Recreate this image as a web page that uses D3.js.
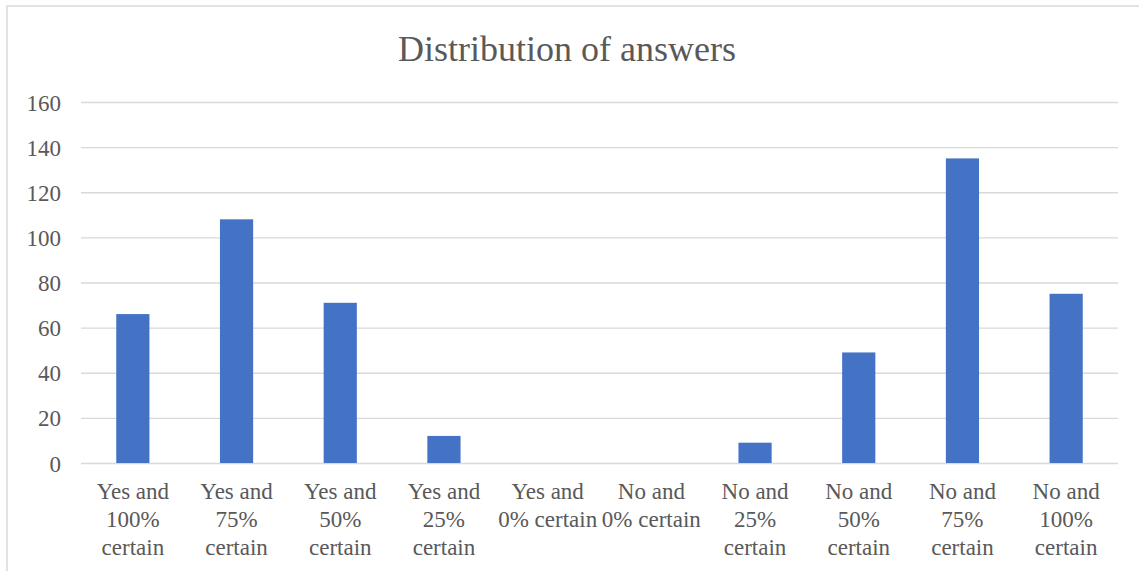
<!DOCTYPE html>
<html>
<head>
<meta charset="utf-8">
<script src="https://cdn.jsdelivr.net/npm/d3@7"></script>
<style>
  html, body { margin: 0; padding: 0; background: #fff; }
  svg { display: block; }
  text { font-family: "Liberation Serif", "Times New Roman", serif; fill: #595959; }
</style>
</head>
<body>
<svg id="chart" width="1139" height="571"></svg>
<script>
const title = "Distribution of answers";
const categories = [
  "Yes and 100% certain", "Yes and 75% certain", "Yes and 50% certain",
  "Yes and 25% certain", "Yes and 0% certain", "No and 0% certain",
  "No and 25% certain", "No and 50% certain", "No and 75% certain",
  "No and 100% certain"
];
const counts = [66, 108, 71, 12, 0, 0, 9, 49, 135, 75];
const yTicks = [0, 20, 40, 60, 80, 100, 120, 140, 160];

const svg = d3.select("#chart");
const W = 1139, H = 571;
const margin = { left: 81, right: 21, top: 102, bottom: 108 };

// Chart area frame
svg.append("rect")
  .attr("x", 7).attr("y", 6)
  .attr("width", W + 20).attr("height", H + 20)
  .attr("fill", "#fff").attr("stroke", "#d9d9d9").attr("stroke-width", 1.5);

svg.append("text")
  .attr("x", 567).attr("y", 61)
  .attr("text-anchor", "middle")
  .style("font-size", "36px")
  .text(title);

const x = d3.scaleBand()
  .domain(categories)
  .range([margin.left, W - margin.right])
  .paddingInner(0.68).paddingOuter(0.34);

const y = d3.scaleLinear()
  .domain([0, 160])
  .range([H - margin.bottom, margin.top]);

// Horizontal gridlines
svg.append("g")
  .attr("transform", `translate(${margin.left},0)`)
  .call(d3.axisLeft(y).tickValues(yTicks).tickSize(-(W - margin.right - margin.left)).tickFormat(""))
  .call(g => g.select(".domain").remove())
  .call(g => g.selectAll("line").attr("stroke", "#d9d9d9").attr("stroke-width", 1.4));

// Y tick labels
svg.append("g")
  .attr("transform", `translate(${margin.left - 20},0)`)
  .call(d3.axisLeft(y).tickValues(yTicks).tickSize(0).tickPadding(0))
  .call(g => g.select(".domain").remove())
  .call(g => g.selectAll("text")
    .style("font-size", "23px")
    .style("font-family", "'Liberation Serif', 'Times New Roman', serif")
    .attr("fill", "#595959")
    .attr("dy", "0.35em"));

// Bars
svg.append("g").selectAll("rect")
  .data(categories.map((c, i) => ({ c, v: counts[i] })))
  .join("rect")
  .attr("x", d => x(d.c))
  .attr("y", d => y(d.v))
  .attr("width", x.bandwidth())
  .attr("height", d => y(0) - y(d.v))
  .attr("fill", "#4472c4");

// Category axis labels, wrapped to the category width
const xAxis = svg.append("g")
  .attr("transform", `translate(0,${y(0)})`)
  .call(d3.axisBottom(x).tickSize(0).tickPadding(0))
  .call(g => g.select(".domain").remove());

const maxWidth = x.step() - 3;
xAxis.selectAll("text").each(function(label) {
  const t = d3.select(this);
  t.text(null)
    .style("font-size", "23px")
    .style("font-family", "'Liberation Serif', 'Times New Roman', serif")
    .attr("fill", "#595959")
    .attr("y", 0).attr("dy", null);
  const words = label.split(" ");
  const lines = [];
  let line = [];
  const probe = t.append("tspan");
  for (const w of words) {
    const trial = line.concat(w).join(" ");
    probe.text(trial);
    if (line.length && probe.node().getComputedTextLength() > maxWidth) {
      lines.push(line.join(" "));
      line = [w];
    } else {
      line.push(w);
    }
  }
  lines.push(line.join(" "));
  probe.remove();
  lines.forEach((l, i) => {
    t.append("tspan").attr("x", 0).attr("y", 36 + i * 28).text(l);
  });
});
</script>
</body>
</html>
